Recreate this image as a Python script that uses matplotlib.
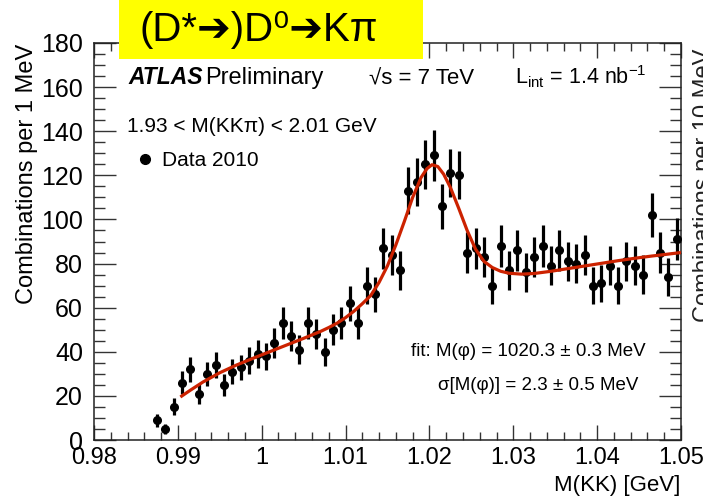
import matplotlib
matplotlib.use("Agg")
import matplotlib.pyplot as plt
from matplotlib.lines import Line2D
from matplotlib.patches import Rectangle
from matplotlib.ticker import MultipleLocator, FuncFormatter
import numpy as np

plt.rcParams["font.family"] = ["Liberation Sans", "DejaVu Sans"]
plt.rcParams["mathtext.fontset"] = "custom"
plt.rcParams["mathtext.rm"] = "Liberation Sans"
plt.rcParams["mathtext.it"] = "Liberation Sans:italic"
plt.rcParams["mathtext.bf"] = "Liberation Sans:bold"

# K+K- invariant mass histogram, 1 MeV bins starting at 0.987 GeV
bin_low = 0.987
bin_width = 0.001
counts = [9, 5, 15, 26, 32, 21, 30, 34, 25, 31, 33, 36, 39, 38, 44, 53,
          47, 41, 53, 48, 40, 50, 53, 62, 53, 70, 66, 87, 84, 77, 113, 117,
          125, 129, 106, 121, 120, 85, 87, 83, 70, 88, 77, 86, 76, 83, 88,
          79, 86, 81, 80, 84, 70, 71, 79, 70, 81, 79, 75, 102, 85, 74, 91]

# fitted signal + background curve
fit_mass = [0.9903, 0.9915, 0.9930, 0.9950, 0.9970, 0.9990, 1.0010, 1.0030,
            1.0050, 1.0070, 1.0080, 1.0090, 1.0100, 1.0110, 1.0120, 1.0130,
            1.0140, 1.0150, 1.0160, 1.0170, 1.0180, 1.0190, 1.0197, 1.0203,
            1.0210, 1.0217, 1.0225, 1.0235, 1.0245, 1.0255, 1.0265, 1.0275,
            1.0285, 1.0295, 1.0310, 1.0325, 1.0345, 1.0365, 1.0385, 1.0405,
            1.0425, 1.0445, 1.0465, 1.0485, 1.0500]
fit_value = [19.5, 22.6, 26.3, 30.5, 34.0, 37.1, 40.1, 43.1,
             46.1, 49.2, 51.0, 53.0, 55.5, 58.4, 61.8, 65.5,
             71.5, 79.0, 88.5, 99.0, 110.0, 119.0, 123.0, 124.8,
             124.0, 120.5, 114.5, 105.0, 95.0, 86.5, 81.0, 78.2,
             76.5, 75.6, 75.2, 75.5, 76.5, 77.7, 78.9, 80.1,
             81.3, 82.4, 83.4, 84.3, 85.0]

x_ticks_major = 0.01
y_ticks_major = 20

counts = np.array(counts, dtype=float)
centres = bin_low + bin_width * (np.arange(len(counts)) + 0.5)
errors = np.sqrt(counts)

W, H = 703, 501
fig = plt.figure(figsize=(W / 100, H / 100), dpi=100)


def fx(px):
    return px / W


def fy(py):
    return 1 - py / H


ax = fig.add_axes([fx(94), fy(440), (681 - 94) / W, (440 - 43) / H])

ax.errorbar(centres, counts, yerr=errors, fmt="o", color="black",
            ms=5.5, elinewidth=2.3, capsize=0, zorder=3)
ax.plot(fit_mass, fit_value, color="#cc2200", lw=2.3,
        solid_joinstyle="round", solid_capstyle="butt", zorder=4)

ax.set_xlim(0.98, 1.05)
ax.set_ylim(0, 180)
ax.xaxis.set_major_locator(MultipleLocator(x_ticks_major))
ax.xaxis.set_minor_locator(MultipleLocator(0.002))
ax.yaxis.set_major_locator(MultipleLocator(y_ticks_major))
ax.yaxis.set_minor_locator(MultipleLocator(5))
ax.xaxis.set_major_formatter(FuncFormatter(lambda v, p: f"{round(v, 4):g}"))

for s in ax.spines.values():
    s.set_linewidth(1.1)
    s.set_color("#222222")
ax.tick_params(axis="both", which="both", direction="in", top=True,
               right=True, color="#333333", width=1.0)
ax.tick_params(axis="x", which="major", length=11, labelsize=17, pad=5)
ax.tick_params(axis="x", which="minor", length=6)
ax.tick_params(axis="y", which="major", length=16, labelsize=18, pad=8)
ax.tick_params(axis="y", which="minor", length=8)

# axis titles
fig.text(fx(680), fy(485), "M(KK) [GeV]", fontsize=16, ha="right",
         va="center")
fig.text(fx(27), fy(44), "Combinations per 1 MeV", fontsize=17,
         rotation=90, ha="center", va="top")
fig.text(fx(693), fy(322), "Combinations per 10 MeV", fontsize=17,
         rotation=90, ha="left", va="bottom", color="#222222")

# title banner
fig.patches.append(Rectangle((fx(119), fy(59)), fx(423) - fx(119),
                             fy(0) - fy(59), transform=fig.transFigure,
                             facecolor="#ffff00", edgecolor="none",
                             zorder=5))
fig.text(fx(139), fy(30), "(D*\u2794)D\u2070\u2794K\u03c0", fontsize=29,
         ha="left", va="center", zorder=6)

# plot annotations
fig.text(fx(128), fy(84), "ATLAS", fontsize=16.5,
         fontweight="bold", fontstyle="italic", va="baseline")
fig.text(fx(205), fy(84), "Preliminary", fontsize=17, va="baseline")
fig.text(fx(369), fy(84), "\u221as = 7 TeV", fontsize=16, va="baseline")
fig.text(fx(515), fy(84), r"L$_{\mathrm{int}}$ = 1.4 nb$^{\mathrm{-1}}$",
         fontsize=15.5, va="baseline")
fig.text(fx(127), fy(127), "1.93 < M(KK\u03c0) < 2.01 GeV", fontsize=15,
         va="center")
fig.text(fx(646), fy(352), "fit: M(\u03c6) = 1020.3 \u00b1 0.3 MeV",
         fontsize=13.5, ha="right", va="center")
fig.text(fx(638), fy(386), "\u03c3[M(\u03c6)] = 2.3 \u00b1 0.5 MeV",
         fontsize=13.5, ha="right", va="center")

handle = Line2D([], [], marker="o", ls="none", color="black", ms=7)
ax.legend(handles=[handle], labels=["Data 2010"], loc="center left",
          bbox_to_anchor=((135 - 94) / 587, (440 - 161) / 397),
          frameon=False, handlelength=1.0, handletextpad=0.3,
          borderpad=0, borderaxespad=0, fontsize=15)

fig.savefig("out.png", dpi=100)
